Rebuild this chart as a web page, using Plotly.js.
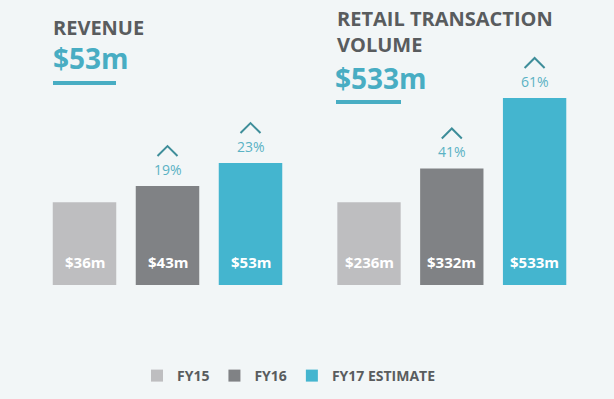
<!DOCTYPE html>
<html><head><meta charset="utf-8">
<script src="https://cdn.plot.ly/plotly-3.0.1.min.js"></script>
<style>html,body{margin:0;padding:0;background:#f2f6f7}</style>
</head><body><div id="chart" style="width:614px;height:399px"></div>
<script>
const years = ['FY15', 'FY16', 'FY17 ESTIMATE'];
const revenue = [36, 43, 53];
const rtv = [236, 332, 533];
const revenueLabels = ['$36m', '$43m', '$53m'];
const rtvLabels = ['$236m', '$332m', '$533m'];
const revenueGrowth = [null, '19%', '23%'];
const rtvGrowth = [null, '41%', '61%'];
const revenueTitle = ['REVENUE'];
const rtvTitle = ['RETAIL TRANSACTION', 'VOLUME'];
const revenueTotal = '$53m';
const rtvTotal = '$533m';
const colors = ['#bebec0', '#808285', '#44b5cf'];

const FONT = 'Open Sans, Arial, sans-serif';
const DARK = '#595c5e';
const TEAL = '#48adc3';
const TEAL_TXT = '#5ab2c4';
const CHEV = '#3f8e9a';

const panels = [
  {vals: revenue, labels: revenueLabels, growth: revenueGrowth, xa: 'x', ya: 'y'},
  {vals: rtv, labels: rtvLabels, growth: rtvGrowth, xa: 'x2', ya: 'y2'}
];

const data = [];
const annotations = [];
const shapes = [];

panels.forEach((p, pi) => {
  years.forEach((yr, i) => {
    data.push({
      type: 'bar', x: [yr], y: [p.vals[i]], xaxis: p.xa, yaxis: p.ya,
      name: yr, legendgroup: yr, showlegend: pi === 0,
      marker: {color: colors[i]}, hoverinfo: 'skip'
    });
    annotations.push({
      xref: p.xa, yref: p.ya, x: yr, y: 0, yanchor: 'bottom', yshift: 11,
      text: p.labels[i], showarrow: false,
      font: {family: FONT, size: 15, color: '#ffffff', weight: 'bold'}
    });
    if (p.growth[i]) {
      annotations.push({
        xref: p.xa, yref: p.ya, x: yr, y: p.vals[i], yanchor: 'bottom', yshift: 5,
        text: p.growth[i], showarrow: false,
        font: {family: FONT, size: 14, color: TEAL_TXT}
      });
      shapes.push({
        type: 'path', xref: p.xa, yref: p.ya, xsizemode: 'pixel', ysizemode: 'pixel',
        xanchor: yr, yanchor: p.vals[i], path: 'M-10,30 L0,40 L10,30',
        line: {color: CHEV, width: 2}
      });
    }
  });
});

const W = 614, H = 399;
const px = v => v / W;
const py = v => 1 - v / H;
function text(x, y, t, size, color) {
  annotations.push({xref: 'paper', yref: 'paper', x: px(x), y: py(y), xanchor: 'left', yanchor: 'middle', align: 'left',
    text: t, showarrow: false, font: {family: FONT, size: size, color: color, weight: 'bold'}});
}
text(51, 27, revenueTitle[0], 20, DARK);
text(51, 58, revenueTotal, 28, TEAL);
text(335, 31, rtvTitle.join('<br>'), 20, DARK);
text(333, 78, rtvTotal, 28, TEAL);
shapes.push({type: 'rect', xref: 'paper', yref: 'paper', x0: px(53), x1: px(116), y0: py(85), y1: py(81), fillcolor: TEAL, line: {width: 0}});
shapes.push({type: 'rect', xref: 'paper', yref: 'paper', x0: px(336), x1: px(401), y0: py(104), y1: py(100), fillcolor: TEAL, line: {width: 0}});

const yDom = [py(285), py(40)];
const axBase = {showgrid: false, zeroline: false, showline: false, showticklabels: false, ticks: '', fixedrange: true};
const layout = {
  width: W, height: H, margin: {l: 0, r: 0, t: 0, b: 0},
  paper_bgcolor: '#f2f6f7', plot_bgcolor: 'rgba(0,0,0,0)',
  barmode: 'overlay', bargap: 0.235,
  xaxis: Object.assign({}, axBase, {domain: [px(43), px(292)], anchor: 'y', categoryorder: 'array', categoryarray: years}),
  yaxis: Object.assign({}, axBase, {domain: yDom, range: [0, 106.5], anchor: 'x'}),
  xaxis2: Object.assign({}, axBase, {domain: [px(327.6), px(576)], anchor: 'y2', categoryorder: 'array', categoryarray: years}),
  yaxis2: Object.assign({}, axBase, {domain: yDom, range: [0, 698], anchor: 'x2'}),
  showlegend: true,
  legend: {orientation: 'h', x: px(137), xanchor: 'left', y: py(376), yanchor: 'middle',
    font: {family: FONT, size: 14, color: DARK, weight: 'bold'}, bgcolor: 'rgba(0,0,0,0)', itemclick: false, itemdoubleclick: false, traceorder: 'normal'},
  annotations: annotations, shapes: shapes
};
Plotly.newPlot('chart', data, layout, {staticPlot: true, displayModeBar: false});
</script></body></html>
